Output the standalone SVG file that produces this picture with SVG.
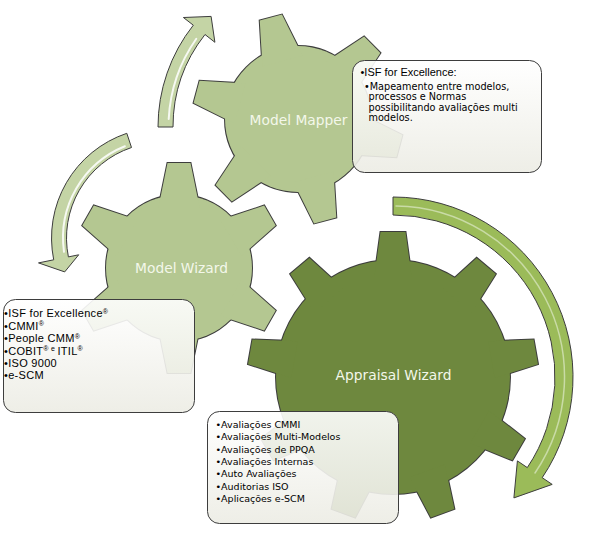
<svg xmlns="http://www.w3.org/2000/svg" xmlns:xlink="http://www.w3.org/1999/xlink" width="593" height="540" viewBox="0 0 593 540">
<style>
.gs { fill: none; stroke: #3d3d3d; stroke-width: 2; }
.gl { fill: #b4c791; stroke: none; }
.gd { fill: #6e883e; stroke: none; }
.lbl { font-family: "DejaVu Sans", Verdana, sans-serif; font-size: 13.8px; fill: #f3f7ea; text-anchor: middle; }
.box { fill: url(#boxg); fill-opacity: 0.9; stroke: #3d3d3d; stroke-width: 1; }
.t9 { font-family: "DejaVu Sans", Verdana, sans-serif; font-size: 9.5px; fill: #000; }
.t9b { font-family: "DejaVu Sans", Verdana, sans-serif; font-size: 9.7px; fill: #000; }
.ta { font-family: "Liberation Sans", Tahoma, Arial, sans-serif; font-size: 11px; letter-spacing: 0.3px; fill: #000; }
.ta1 { font-family: "Liberation Sans", Tahoma, Arial, sans-serif; font-size: 11px; fill: #000; }
.sup { font-size: 7px; }
.arrL { fill: #c4d4a5; stroke: #3d3d3d; stroke-width: 1; }
.arrD { fill: #9bbb59; stroke: #3d3d3d; stroke-width: 1; }
.hl { fill: none; stroke: #ffffff; stroke-width: 2; stroke-opacity: 0.85; stroke-linecap: round; }
.hl2 { fill: none; stroke: #c9dba6; stroke-width: 1.5; stroke-linecap: round; }
</style>
<defs>
<linearGradient id="boxg" x1="0" y1="0" x2="0" y2="1">
<stop offset="0" stop-color="#ffffff"/>
<stop offset="1" stop-color="#ecece4"/>
</linearGradient>
<polygon id="t6" points="-20.7,-60 -11.5,-105 11.5,-105 20.7,-60"/>
<polygon id="t9" points="-18.7,-100 -12.5,-145 12.5,-145 18.7,-100"/>
</defs>

<g id="gear-model-mapper" transform="translate(298,119)">
<g class="gs">
<circle r="73"/>
<use xlink:href="#t6" transform="rotate(-15)"/><use xlink:href="#t6" transform="rotate(45)"/><use xlink:href="#t6" transform="rotate(105)"/><use xlink:href="#t6" transform="rotate(165)"/><use xlink:href="#t6" transform="rotate(225)"/><use xlink:href="#t6" transform="rotate(285)"/>
</g>
<g class="gl">
<circle r="73"/>
<use xlink:href="#t6" transform="rotate(-15)"/><use xlink:href="#t6" transform="rotate(45)"/><use xlink:href="#t6" transform="rotate(105)"/><use xlink:href="#t6" transform="rotate(165)"/><use xlink:href="#t6" transform="rotate(225)"/><use xlink:href="#t6" transform="rotate(285)"/>
</g>
<text class="lbl" x="0.5" y="6">Model Mapper</text>
</g>

<g id="gear-model-wizard" transform="translate(179,268)">
<g class="gs">
<circle r="73"/>
<use xlink:href="#t6"/><use xlink:href="#t6" transform="rotate(60)"/><use xlink:href="#t6" transform="rotate(120)"/><use xlink:href="#t6" transform="rotate(180)"/><use xlink:href="#t6" transform="rotate(240)"/><use xlink:href="#t6" transform="rotate(300)"/>
</g>
<g class="gl">
<circle r="73"/>
<use xlink:href="#t6"/><use xlink:href="#t6" transform="rotate(60)"/><use xlink:href="#t6" transform="rotate(120)"/><use xlink:href="#t6" transform="rotate(180)"/><use xlink:href="#t6" transform="rotate(240)"/><use xlink:href="#t6" transform="rotate(300)"/>
</g>
<text class="lbl" x="2.5" y="5">Model Wizard</text>
</g>

<g id="gear-appraisal-wizard" transform="translate(393,377)">
<g class="gs">
<circle r="117"/>
<use xlink:href="#t9"/><use xlink:href="#t9" transform="rotate(40)"/><use xlink:href="#t9" transform="rotate(80)"/><use xlink:href="#t9" transform="rotate(120)"/><use xlink:href="#t9" transform="rotate(160)"/><use xlink:href="#t9" transform="rotate(200)"/><use xlink:href="#t9" transform="rotate(240)"/><use xlink:href="#t9" transform="rotate(280)"/><use xlink:href="#t9" transform="rotate(320)"/>
</g>
<g class="gd">
<circle r="117"/>
<use xlink:href="#t9"/><use xlink:href="#t9" transform="rotate(40)"/><use xlink:href="#t9" transform="rotate(80)"/><use xlink:href="#t9" transform="rotate(120)"/><use xlink:href="#t9" transform="rotate(160)"/><use xlink:href="#t9" transform="rotate(200)"/><use xlink:href="#t9" transform="rotate(240)"/><use xlink:href="#t9" transform="rotate(280)"/><use xlink:href="#t9" transform="rotate(320)"/>
</g>
<text class="lbl" x="0.5" y="3">Appraisal Wizard</text>
</g>

<g id="connectors">
<path class="arrD" d="M393,197 A180,180 0 0 1 542.2,477.7 L552.2,484.4 L513.9,497.9 L517.4,460.9 L527.3,467.6 A162,162 0 0 0 393,215 Z"/>
<path class="hl2" d="M396,206 A171,171 0 0 1 535,473"/>
<path class="arrL" d="M158,127 A164.5,164.5 0 0 1 193.3,25.2 L183.4,17.5 L211.1,16.4 L214.9,42.3 L205,34.5 A149.5,149.5 0 0 0 173,127 Z"/>
<path class="hl" d="M168.7,119 A154,154 0 0 1 196.3,38.7"/>
<path class="arrL" d="M126.8,133.3 A110.5,110.5 0 0 0 53.7,259.8 L38.5,262.9 L64.7,271.9 L78.7,254.8 L68.4,256.9 A95.5,95.5 0 0 1 131.5,147.5 Z"/>
<path class="hl" d="M124.9,146.2 A99,99 0 0 0 64,251.8"/>
</g>

<g id="box-model-mapper">
<rect class="box" x="352.5" y="60.5" width="189" height="112" rx="12"/>
<text class="ta1" x="360.5" y="75.5">•ISF for Excellence:</text>
<text class="t9b" x="364" y="89.5">•Mapeamento entre modelos,</text>
<text class="t9b" x="368.5" y="100">processos e Normas</text>
<text class="t9b" x="368.5" y="110.8">possibilitando avaliações multi</text>
<text class="t9b" x="368.5" y="121.4">modelos.</text>
</g>

<g id="box-model-wizard">
<rect class="box" x="3.5" y="299.5" width="191" height="113" rx="12"/>
<text class="ta" x="4" y="317.3">•ISF for Excellence<tspan class="sup" dy="-3.5">®</tspan></text>
<text class="ta" x="4" y="329.7">•CMMI<tspan class="sup" dy="-3.5">®</tspan></text>
<text class="ta" x="4" y="342.1">•People CMM<tspan class="sup" dy="-3.5">®</tspan></text>
<text class="ta" x="4" y="354.5">•COBIT<tspan class="sup" dy="-3.5">® e </tspan><tspan dy="3.5">ITIL</tspan><tspan class="sup" dy="-3.5">®</tspan></text>
<text class="ta" x="4" y="366.9">•ISO 9000</text>
<text class="ta" x="4" y="379.3">•e-SCM</text>
</g>

<g id="box-appraisal-wizard">
<rect class="box" x="207.5" y="411.5" width="191" height="112" rx="12"/>
<text class="t9" x="215.5" y="427.7">•Avaliações CMMI</text>
<text class="t9" x="215.5" y="440.1">•Avaliações Multi-Modelos</text>
<text class="t9" x="215.5" y="452.5">•Avaliações de PPQA</text>
<text class="t9" x="215.5" y="464.9">•Avaliações Internas</text>
<text class="t9" x="215.5" y="477.3">•Auto Avaliações</text>
<text class="t9" x="215.5" y="489.7">•Auditorias ISO</text>
<text class="t9" x="215.5" y="502.1">•Aplicações e-SCM</text>
</g>
</svg>
